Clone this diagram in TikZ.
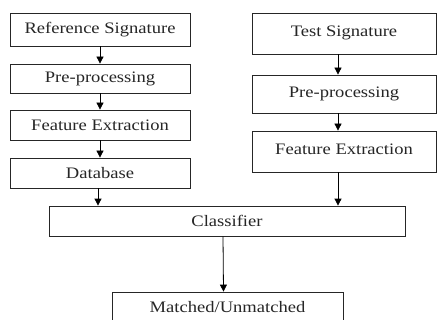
\documentclass[tikz,border=0pt]{standalone}
\usepackage{fontspec}
\setmainfont{Liberation Serif}
\usetikzlibrary{arrows.meta}
\newcommand{\hstretch}[1]{\scalebox{1.16}[1]{#1}}
\tikzset{
  box/.style={draw=black!85, line width=0.8pt, rectangle, inner sep=0pt, anchor=center,
    font=\fontsize{16}{18}\selectfont, text=black!85},
  arr/.style={draw=black, line width=0.8pt, -{Triangle[length=7pt,width=7pt]}},
}
\begin{document}
\begin{tikzpicture}[x=1pt,y=-1pt]
\useasboundingbox (0,0) rectangle (438,320);
\fill[white] (0,0) rectangle (438,320);
\begin{scope}
\clip (0,0) rectangle (438,320);
% left column
\node[box, minimum width=180pt, minimum height=33pt] (ref) at (100,29.5) {\hstretch{Reference Signature}};
\node[box, minimum width=180pt, minimum height=29pt] (prel) at (100,78.5) {\hstretch{Pre-processing}};
\node[box, minimum width=180pt, minimum height=30pt] (fel) at (100,125) {\hstretch{Feature Extraction}};
\node[box, minimum width=180pt, minimum height=30pt] (db) at (100,173) {\hstretch{Database}};
% right column
\node[box, minimum width=184pt, minimum height=41pt] (test) at (344,33.5) {\raisebox{4pt}{\hstretch{Test Signature}}};
\node[box, minimum width=184pt, minimum height=38pt] (prer) at (344,94) {\raisebox{4pt}{\hstretch{Pre-processing}}};
\node[box, minimum width=184pt, minimum height=41pt] (fer) at (344,151.5) {\raisebox{4pt}{\hstretch{Feature Extraction}}};
% classifier and output
\node[box, minimum width=356pt, minimum height=30pt] (cls) at (227,221) {\hstretch{Classifier}};
\node[box, minimum width=231pt, minimum height=32pt] (res) at (227.5,308) {\raisebox{2pt}{\hstretch{Matched/Unmatched}}};
% helper coordinates for off-centre arrows
\coordinate (dbo) at ([xshift=-2pt]db.south);
\coordinate (fero) at ([xshift=-6pt]fer.south);
% arrows
\draw[arr] (ref) -- (prel);
\draw[arr] (prel) -- (fel);
\draw[arr] (fel) -- (db);
\draw[arr] ([xshift=-6pt]test.south) -- ([xshift=-6pt]prer.north);
\draw[arr] ([xshift=-6pt]prer.south) -- ([xshift=-6pt]fer.north);
\draw[arr] (dbo) -- (dbo |- cls.north);
\draw[arr] (fero) -- (fero |- cls.north);
\draw[arr] ([xshift=-4pt]cls.south) -- ([xshift=-4pt]res.north);
\end{scope}
\end{tikzpicture}
\end{document}
